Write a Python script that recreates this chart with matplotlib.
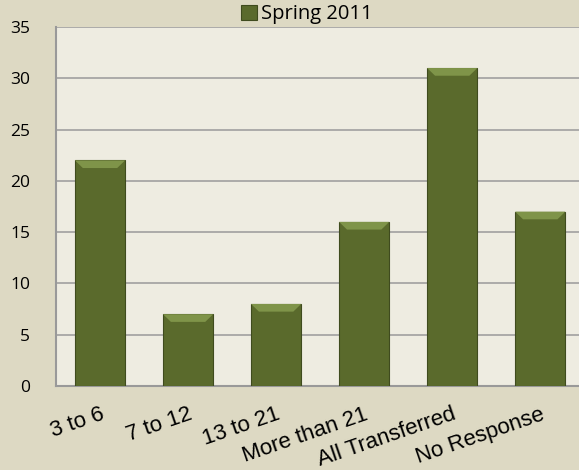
import numpy as np
import matplotlib
matplotlib.use('Agg')
import matplotlib.pyplot as plt
from matplotlib.patches import Polygon

categories = ['3 to 6', '7 to 12', '13 to 21', 'More than 21', 'All Transferred', 'No Response']
values = [22, 7, 8, 16, 31, 17]
series_name = 'Spring 2011'

bg_outer = '#ddd9c3'
bg_plot = '#eeece1'
bar_color = '#5a6a2c'

fig = plt.figure(figsize=(5.79, 4.70), dpi=100, facecolor=bg_outer)
ax = fig.add_axes([56 / 579, 1 - 386 / 470, 1 - 56 / 579, (386 - 27) / 470])
ax.set_facecolor(bg_plot)

x = np.arange(len(categories))
width = 0.57
bars = ax.bar(x, values, width=width, color=bar_color, edgecolor='#3f4b1e',
              linewidth=0.8, zorder=3, label=series_name)

# light bevel on top of each bar
for xi, v in zip(x, values):
    bh = 0.75
    inset = 0.09
    top = [(xi - width / 2, v), (xi + width / 2, v),
           (xi + width / 2 - inset, v - bh), (xi - width / 2 + inset, v - bh)]
    ax.add_patch(Polygon(top, closed=True, facecolor='#7f9449', edgecolor='none', zorder=4))

ax.set_ylim(0, 35)
ax.set_xlim(-0.5, 5.44)
ax.set_yticks(range(0, 36, 5))
ax.yaxis.grid(True, color='#a0a0a0', linewidth=1.2, zorder=0)
ax.set_axisbelow(True)

for side in ['top', 'right']:
    ax.spines[side].set_visible(False)
for side in ['left', 'bottom']:
    ax.spines[side].set_color('#999999')
    ax.spines[side].set_linewidth(1.5)

ax.tick_params(axis='both', length=0)
ax.tick_params(axis='y', pad=18.5, labelsize=12.5)
for lbl in ax.get_yticklabels():
    lbl.set_fontfamily('Open Sans')

ax.set_xticks(x)
ax.set_xticklabels(categories, rotation=19, ha='right', va='top',
                   rotation_mode='anchor', fontsize=16, fontfamily='Liberation Sans')
ax.tick_params(axis='x', pad=13)

leg = ax.legend(loc='lower center', bbox_to_anchor=(0.48, 0.985), frameon=False,
                handlelength=0.8, handleheight=0.8, handletextpad=0.2,
                borderaxespad=0, prop={'family': 'Open Sans', 'size': 14.5})

fig.savefig('out.png', dpi=100, facecolor=bg_outer)
